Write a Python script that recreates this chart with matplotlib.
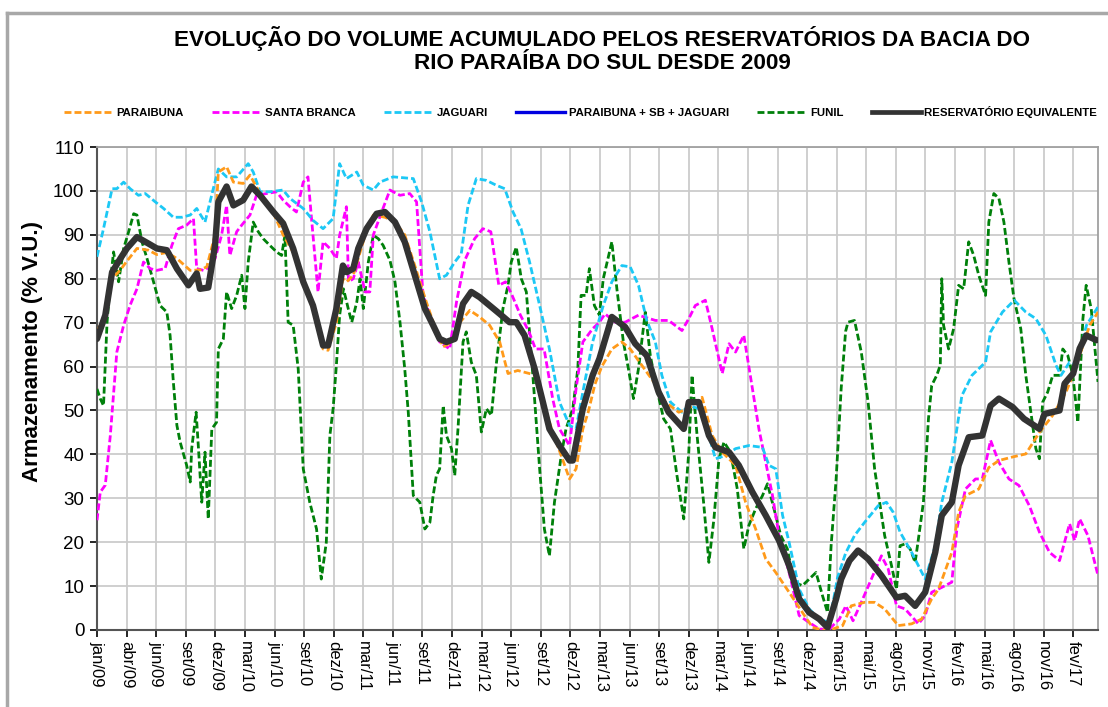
import matplotlib
matplotlib.use("Agg")
import matplotlib.pyplot as plt
from matplotlib.lines import Line2D

plt.rcParams['font.family'] = ['Liberation Sans', 'DejaVu Sans']

# ---- data (x in label-interval units from jan/09) ----
tick_labels = ["jan/09", "abr/09", "jun/09", "set/09", "dez/09", "mar/10", "jun/10", "set/10",
               "dez/10", "mar/11", "jun/11", "set/11", "dez/11", "mar/12", "jun/12", "set/12",
               "dez/12", "mar/13", "jun/13", "set/13", "dez/13", "mar/14", "jun/14", "set/14",
               "dez/14", "mar/15", "mai/15", "ago/15", "nov/15", "fev/16", "mai/16", "ago/16",
               "nov/16", "fev/17"]

paraibuna_x = [0, 0.28, 0.51, 0.79, 1.01, 1.35, 1.74, 2.02, 2.36, 2.70, 3.15, 3.48, 3.71, 3.99, 4.10, 4.38, 4.61, 4.94, 5.17, 5.51, 5.96, 6.29, 6.63, 6.97, 7.30, 7.64, 7.81, 8.09, 8.31, 8.44, 8.66, 8.89, 9.11, 9.34, 9.73, 10.07, 10.40, 10.74, 11.13, 11.47, 11.70, 11.98, 12.26, 12.60, 12.93, 13.27, 13.61, 13.89, 14.22, 14.62, 14.79, 15.07, 15.40, 15.69, 15.97, 16.19, 16.42, 16.60, 16.83, 17.06, 17.40, 17.74, 18.02, 18.41, 18.87, 19.21, 19.66, 20.00, 20.45, 20.79, 21.13, 21.58, 21.92, 22.26, 22.60, 22.94, 23.39, 23.84, 24.18, 24.52, 24.86, 25.20, 25.49, 25.94, 26.28, 26.62, 27.08, 27.53, 27.87, 28.21, 28.44, 28.89, 29.12, 29.35, 29.80, 30.14, 30.48, 30.94, 31.39, 31.85, 32.30, 32.75, 32.98, 33.21, 33.55, 33.83]
paraibuna_y = [67.9, 72.0, 80.0, 82.0, 84.0, 86.9, 86.5, 85.5, 86.0, 84.6, 81.9, 82.0, 82.7, 90.0, 104.3, 105.5, 102.0, 101.7, 103.6, 99.4, 95.0, 90.0, 86.0, 79.0, 73.0, 64.0, 63.7, 70.0, 80.0, 79.3, 80.8, 86.0, 91.0, 94.5, 94.0, 93.0, 90.0, 83.0, 74.7, 68.0, 64.5, 65.5, 70.0, 72.8, 71.3, 69.4, 65.6, 58.4, 59.1, 58.4, 58.0, 52.0, 45.0, 39.7, 34.4, 36.7, 45.8, 49.6, 56.0, 60.0, 64.0, 65.6, 64.0, 60.3, 56.0, 51.9, 49.6, 50.4, 53.0, 44.3, 40.5, 37.5, 29.1, 23.0, 16.2, 13.1, 8.6, 4.0, 0.6, 0.0, 0.2, 1.0, 5.5, 6.3, 6.3, 4.8, 1.0, 1.4, 2.5, 7.1, 9.3, 17.7, 26.8, 30.6, 32.1, 37.0, 38.6, 39.4, 40.1, 45.0, 48.9, 54.2, 58.0, 62.5, 69.4, 72.4]

santa_branca_x = [0.00, 0.11, 0.28, 0.45, 0.67, 0.90, 1.12, 1.35, 1.57, 1.80, 2.02, 2.30, 2.53, 2.75, 3.03, 3.26, 3.37, 3.60, 3.82, 3.99, 4.21, 4.38, 4.49, 4.72, 4.89, 5.17, 5.39, 5.73, 6.07, 6.29, 6.52, 6.74, 6.97, 7.13, 7.25, 7.47, 7.64, 7.87, 8.09, 8.20, 8.43, 8.50, 8.66, 8.83, 9.06, 9.22, 9.34, 9.62, 9.90, 10.24, 10.57, 10.80, 11.02, 11.25, 11.58, 11.92, 12.15, 12.43, 12.76, 13.04, 13.31, 13.58, 13.81, 14.03, 14.31, 14.60, 14.82, 15.11, 15.40, 15.63, 15.97, 16.19, 16.42, 16.75, 16.98, 17.17, 17.51, 17.85, 18.30, 18.87, 19.32, 19.77, 20.00, 20.22, 20.56, 20.79, 21.13, 21.36, 21.58, 21.86, 22.15, 22.37, 22.60, 22.83, 23.05, 23.39, 23.73, 24.07, 24.41, 24.75, 25.09, 25.31, 25.55, 25.83, 26.17, 26.51, 26.74, 27.02, 27.31, 27.76, 27.99, 28.21, 28.55, 28.89, 29.06, 29.35, 29.69, 29.92, 30.20, 30.48, 30.82, 31.16, 31.51, 31.85, 32.19, 32.53, 32.87, 33.04, 33.21, 33.49, 33.83]
santa_branca_y = [25.0, 31.4, 33.0, 44.3, 63.3, 69.4, 74.0, 77.7, 83.8, 82.3, 81.9, 82.3, 87.6, 91.4, 92.2, 93.7, 82.3, 81.9, 82.7, 84.6, 89.9, 96.7, 85.3, 90.7, 92.2, 94.5, 99.0, 99.4, 99.8, 97.9, 96.4, 95.2, 102.0, 103.2, 93.7, 77.0, 88.4, 86.9, 84.6, 89.9, 96.4, 79.3, 80.0, 83.8, 77.0, 77.0, 90.0, 95.2, 100.2, 99.0, 99.4, 97.5, 76.2, 71.7, 65.6, 64.0, 74.7, 84.2, 89.1, 91.4, 90.7, 78.5, 79.3, 76.2, 71.7, 67.9, 64.0, 64.0, 52.7, 45.8, 42.0, 54.9, 65.6, 68.6, 70.1, 72.0, 70.1, 70.1, 71.7, 70.5, 70.5, 68.2, 70.9, 73.9, 75.1, 68.6, 58.4, 65.2, 63.3, 67.1, 54.9, 45.8, 38.2, 30.6, 21.5, 13.1, 3.3, 1.7, 0.2, 0.2, 2.5, 5.5, 2.1, 6.3, 11.6, 16.9, 13.9, 5.5, 4.8, 1.4, 3.3, 8.6, 9.7, 10.9, 23.0, 32.1, 34.4, 34.4, 43.2, 38.2, 34.4, 32.9, 28.3, 22.3, 17.7, 15.8, 24.2, 20.4, 25.3, 21.5, 12.4]

jaguari_x = [0.00, 0.22, 0.51, 0.67, 0.90, 1.12, 1.40, 1.63, 1.97, 2.25, 2.58, 2.87, 3.15, 3.37, 3.65, 3.93, 4.10, 4.38, 4.72, 5.11, 5.28, 5.51, 5.84, 6.29, 6.52, 6.97, 7.30, 7.64, 7.98, 8.20, 8.43, 8.78, 9.00, 9.34, 9.56, 10.01, 10.69, 10.97, 11.25, 11.58, 11.81, 12.09, 12.31, 12.54, 12.82, 13.16, 13.49, 13.78, 14.06, 14.33, 14.62, 14.96, 15.29, 15.63, 15.97, 16.19, 16.42, 16.75, 17.11, 17.40, 17.74, 18.02, 18.30, 18.58, 18.87, 19.09, 19.38, 19.77, 20.00, 20.34, 20.62, 20.90, 21.24, 21.58, 22.03, 22.49, 22.71, 22.94, 23.17, 23.39, 23.73, 24.07, 24.41, 24.75, 25.03, 25.30, 25.60, 25.94, 26.40, 26.68, 26.91, 27.14, 27.53, 27.99, 28.33, 28.55, 28.89, 29.23, 29.57, 30.03, 30.20, 30.60, 31.00, 31.39, 31.73, 32.07, 32.41, 32.58, 32.87, 33.10, 33.44, 33.83]
jaguari_y = [85.0, 91.4, 100.5, 100.5, 102.0, 100.5, 99.0, 99.4, 97.5, 96.0, 94.0, 94.0, 94.5, 96.0, 92.9, 100.5, 105.0, 103.2, 103.2, 106.2, 104.3, 99.8, 99.8, 100.2, 98.3, 96.0, 93.3, 91.4, 93.7, 106.2, 102.8, 104.3, 101.3, 100.2, 102.0, 103.2, 102.8, 97.5, 90.7, 80.0, 80.8, 83.8, 85.7, 96.7, 102.8, 102.4, 101.3, 100.5, 95.2, 91.4, 83.8, 73.9, 64.0, 51.9, 46.6, 45.8, 54.2, 65.6, 73.9, 79.3, 83.0, 82.7, 78.5, 70.5, 65.6, 58.0, 51.9, 49.6, 51.1, 50.4, 45.8, 39.0, 39.7, 41.3, 42.0, 41.6, 37.5, 36.7, 26.1, 20.0, 9.3, 4.8, 2.5, 1.7, 12.0, 17.5, 21.5, 24.5, 28.3, 29.1, 26.8, 22.3, 17.7, 11.6, 19.2, 29.1, 38.2, 53.4, 58.0, 61.0, 67.9, 72.4, 75.1, 72.4, 70.9, 67.1, 60.3, 58.0, 61.0, 60.3, 69.4, 73.6]

funil_x = [0.00, 0.11, 0.22, 0.34, 0.45, 0.56, 0.73, 0.90, 1.07, 1.24, 1.35, 1.52, 1.69, 1.91, 2.13, 2.36, 2.47, 2.58, 2.70, 2.81, 3.03, 3.15, 3.20, 3.35, 3.43, 3.54, 3.65, 3.76, 3.88, 4.04, 4.10, 4.27, 4.38, 4.55, 4.72, 4.89, 5.00, 5.11, 5.28, 5.45, 5.62, 5.84, 6.07, 6.24, 6.35, 6.46, 6.63, 6.80, 6.97, 7.19, 7.42, 7.58, 7.75, 7.87, 7.98, 8.09, 8.20, 8.33, 8.49, 8.61, 8.78, 8.89, 9.00, 9.17, 9.34, 9.51, 9.67, 9.90, 10.07, 10.24, 10.40, 10.52, 10.69, 10.91, 11.08, 11.25, 11.36, 11.47, 11.58, 11.70, 11.81, 11.98, 12.09, 12.20, 12.37, 12.48, 12.65, 12.82, 12.99, 13.16, 13.33, 13.49, 13.72, 13.89, 14.00, 14.17, 14.34, 14.51, 14.73, 14.96, 15.12, 15.29, 15.46, 15.69, 15.85, 16.08, 16.25, 16.36, 16.53, 16.64, 16.81, 16.98, 17.11, 17.40, 17.57, 17.79, 17.96, 18.13, 18.30, 18.53, 18.70, 18.92, 19.15, 19.38, 19.60, 19.83, 20.00, 20.11, 20.28, 20.50, 20.68, 20.85, 21.02, 21.19, 21.41, 21.64, 21.86, 22.03, 22.26, 22.49, 22.66, 22.88, 23.11, 23.33, 23.56, 23.84, 24.07, 24.30, 24.52, 24.69, 24.81, 24.98, 25.15, 25.30, 25.38, 25.60, 25.83, 26.06, 26.28, 26.45, 26.62, 26.85, 27.02, 27.14, 27.31, 27.48, 27.65, 27.76, 27.93, 28.10, 28.21, 28.38, 28.50, 28.55, 28.61, 28.78, 28.95, 29.12, 29.29, 29.46, 29.63, 29.80, 30.03, 30.14, 30.31, 30.48, 30.65, 30.82, 30.99, 31.22, 31.39, 31.56, 31.73, 31.85, 31.96, 32.13, 32.30, 32.53, 32.64, 32.81, 32.98, 33.15, 33.32, 33.43, 33.60, 33.83]
funil_y = [54.9, 52.7, 51.1, 70.1, 79.3, 86.1, 79.3, 86.9, 90.7, 94.8, 94.5, 88.4, 84.6, 79.3, 73.9, 72.4, 67.1, 56.5, 46.6, 42.8, 37.5, 33.7, 41.3, 49.6, 41.3, 29.1, 40.5, 25.3, 45.8, 47.3, 64.0, 66.3, 77.0, 73.2, 76.2, 80.8, 73.2, 83.8, 92.9, 90.7, 89.1, 87.6, 86.1, 85.3, 89.9, 70.1, 69.4, 59.5, 36.7, 29.1, 23.0, 11.6, 20.0, 44.3, 50.4, 60.3, 71.7, 77.7, 73.2, 70.1, 74.7, 80.0, 73.2, 83.8, 89.9, 89.1, 87.6, 84.2, 79.3, 70.1, 59.5, 49.6, 30.6, 29.1, 23.0, 24.5, 30.6, 35.2, 36.7, 51.1, 44.3, 41.3, 35.2, 45.8, 65.6, 67.9, 61.0, 58.0, 45.1, 50.4, 48.9, 60.3, 73.2, 78.5, 83.8, 87.2, 80.0, 77.0, 58.0, 36.7, 23.0, 16.9, 29.1, 39.7, 45.8, 50.4, 59.5, 76.2, 76.2, 82.3, 73.9, 71.7, 80.0, 88.4, 77.7, 65.6, 59.5, 52.7, 59.5, 72.4, 62.5, 54.9, 48.1, 45.8, 35.2, 25.3, 40.5, 58.0, 44.3, 29.1, 15.4, 25.3, 39.0, 42.8, 40.5, 32.1, 18.5, 23.8, 27.6, 30.6, 33.3, 27.6, 21.5, 18.5, 10.9, 10.1, 11.6, 13.1, 7.8, 4.0, 19.2, 34.4, 55.0, 68.0, 70.1, 70.5, 63.3, 51.9, 36.7, 29.1, 21.5, 14.7, 9.3, 19.2, 19.6, 18.5, 15.4, 20.7, 29.1, 48.1, 55.7, 58.0, 60.3, 80.0, 69.4, 64.0, 68.6, 78.5, 77.7, 88.4, 85.3, 80.8, 76.2, 92.9, 99.4, 98.3, 92.9, 83.8, 75.5, 68.6, 58.0, 49.6, 41.3, 39.0, 51.9, 54.2, 58.0, 58.0, 64.0, 62.5, 58.0, 47.3, 70.9, 78.5, 73.2, 56.5]

equivalente_x = [0, 0.28, 0.51, 0.79, 1.01, 1.35, 1.74, 2.02, 2.36, 2.70, 3.09, 3.37, 3.48, 3.76, 3.99, 4.10, 4.38, 4.61, 4.94, 5.22, 5.51, 5.96, 6.29, 6.63, 6.97, 7.30, 7.64, 7.81, 8.09, 8.31, 8.44, 8.66, 8.83, 9.11, 9.45, 9.73, 10.07, 10.40, 10.74, 11.08, 11.36, 11.58, 11.81, 12.09, 12.37, 12.65, 12.93, 13.27, 13.61, 13.94, 14.17, 14.45, 14.79, 15.07, 15.29, 15.63, 15.97, 16.08, 16.42, 16.75, 16.98, 17.40, 17.85, 18.19, 18.58, 18.98, 19.32, 19.83, 20.00, 20.34, 20.68, 20.90, 21.36, 21.69, 22.15, 22.60, 23.05, 23.39, 23.73, 24.07, 24.41, 24.69, 24.98, 25.15, 25.43, 25.72, 26.06, 26.51, 27.02, 27.31, 27.65, 27.99, 28.33, 28.55, 28.89, 29.12, 29.46, 29.92, 30.20, 30.48, 30.94, 31.33, 31.85, 32.02, 32.53, 32.70, 32.99, 33.21, 33.43, 33.78]
equivalente_y = [66.3, 71.7, 81.5, 84.6, 86.9, 89.5, 88.0, 86.9, 86.5, 82.3, 78.5, 81.2, 77.7, 78.0, 87.6, 97.5, 101.0, 96.7, 97.9, 101.0, 99.0, 95.2, 92.6, 86.9, 79.3, 73.9, 64.8, 64.8, 73.2, 83.0, 81.5, 82.3, 86.9, 91.4, 94.8, 95.2, 92.9, 88.4, 80.8, 73.2, 69.4, 66.3, 65.6, 66.3, 74.3, 77.0, 75.8, 73.9, 72.0, 70.1, 70.1, 67.1, 59.5, 51.9, 45.8, 42.0, 38.6, 38.6, 50.4, 58.0, 61.8, 71.3, 69.0, 65.2, 62.5, 54.2, 49.6, 45.8, 51.9, 51.9, 44.3, 41.6, 40.5, 37.5, 31.4, 26.1, 20.4, 14.7, 7.1, 4.0, 2.5, 0.6, 7.1, 11.6, 15.8, 18.1, 16.2, 12.4, 7.4, 7.8, 5.5, 8.6, 17.7, 26.1, 29.1, 37.5, 43.9, 44.3, 51.1, 52.7, 50.8, 48.1, 45.8, 49.2, 50.0, 56.1, 58.4, 64.1, 67.1, 66.0]

# ---- figure ----
fig = plt.figure(figsize=(11.08, 7.07), dpi=100)
ax = fig.add_axes([97/1108, 1 - 630/707, (1098 - 97)/1108, (630 - 147)/707])

dash = (2.5, 1.1)
lw = 2.0
ax.plot(funil_x, funil_y, color='#00800A', lw=lw, dashes=dash, zorder=3)
ax.plot(santa_branca_x, santa_branca_y, color='#FF00FF', lw=lw, dashes=dash, zorder=3)
ax.plot(jaguari_x, jaguari_y, color='#1CC8F5', lw=lw, dashes=dash, zorder=3)
ax.plot(paraibuna_x, paraibuna_y, color='#FF9A1A', lw=lw, dashes=dash, zorder=3)
ax.plot(equivalente_x, equivalente_y, color='#333333', lw=4.6, zorder=5,
        solid_capstyle='round', solid_joinstyle='round')

ax.set_xlim(0, 33.83)
ax.set_ylim(0, 110)
ax.set_xticks(range(len(tick_labels)))
ax.set_xticklabels(tick_labels, rotation=-90, fontsize=12)
ax.set_yticks(range(0, 111, 10))
ax.tick_params(axis='y', labelsize=13.5, length=5, width=1.2, direction='out', pad=4)
ax.tick_params(axis='x', length=5, width=1.2, direction='out', pad=3)
ax.grid(True, color='#CBCBCB', lw=1.3, zorder=0)
ax.set_axisbelow(True)
for s in ['left', 'bottom']:
    ax.spines[s].set_color('#555555')
    ax.spines[s].set_linewidth(1.5)
for s in ['top', 'right']:
    ax.spines[s].set_color('#A0A0A0')
    ax.spines[s].set_linewidth(1.3)

ax.set_ylabel('Armazenamento (% V.U.)', fontsize=16, fontweight='bold')
ax.yaxis.set_label_coords((43 - 97)/1001, (630 - 351)/483)

fig.text(602/1108, 1 - 50/707, 'EVOLUÇÃO DO VOLUME ACUMULADO PELOS RESERVATÓRIOS DA BACIA DO\nRIO PARAÍBA DO SUL DESDE 2009',
         ha='center', va='center', fontsize=16.2, fontweight='bold', linespacing=1.1)

handles = [
    Line2D([], [], color='#FF9A1A', lw=lw, dashes=dash),
    Line2D([], [], color='#FF00FF', lw=lw, dashes=dash),
    Line2D([], [], color='#1CC8F5', lw=lw, dashes=dash),
    Line2D([], [], color='#0000E0', lw=2.4),
    Line2D([], [], color='#00800A', lw=lw, dashes=dash),
    Line2D([], [], color='#333333', lw=3.4),
]
labels = ['PARAIBUNA', 'SANTA BRANCA', 'JAGUARI', 'PARAIBUNA + SB + JAGUARI', 'FUNIL',
          'RESERVATÓRIO EQUIVALENTE']
fig.legend(handles, labels, loc='center', ncol=6, mode='expand',
           bbox_to_anchor=(64/1108, 1 - 124/707, (1097 - 64)/1108, 24/707),
           frameon=False, prop={'size': 8.2, 'weight': 'bold'},
           handlelength=4.3, handletextpad=0.3, borderaxespad=0, borderpad=0)

frame_col = '#A8A8A8'
fig.add_artist(Line2D([7/1108, 7/1108], [0, 1 - 13/707], transform=fig.transFigure,
                      color=frame_col, lw=2.5))
fig.add_artist(Line2D([7/1108, 1], [1 - 13/707, 1 - 13/707], transform=fig.transFigure,
                      color=frame_col, lw=2.5))

fig.savefig('out.png', dpi=100)
